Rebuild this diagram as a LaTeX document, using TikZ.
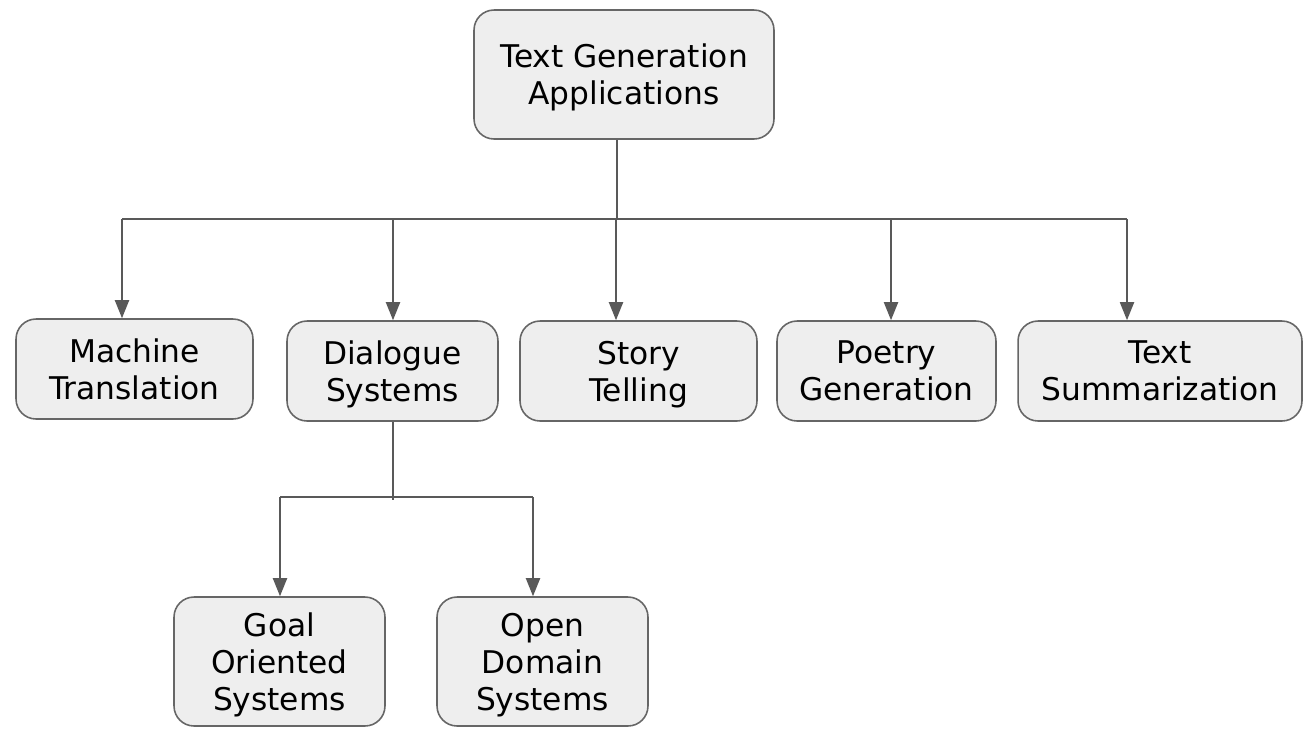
\documentclass[tikz,border=0pt]{standalone}
\usepackage{fontspec}
\setmainfont{DejaVu Sans}
\usetikzlibrary{arrows.meta}

\definecolor{boxfill}{HTML}{EEEEEE}
\definecolor{boxline}{HTML}{666666}
\definecolor{linkcol}{HTML}{595959}

\tikzset{
  topic/.style={draw=boxline, fill=boxfill, line width=0.9pt, rounded corners=0.4cm,
    align=center, inner sep=0pt, font=\fontsize{17.8}{21}\selectfont, text depth=0pt},
  link/.style={draw=linkcol, line width=1.1pt},
  arr/.style={link, -{Triangle[length=0.36cm, width=0.28cm]}}
}

\begin{document}
\begin{tikzpicture}[x=0.02cm, y=-0.02cm]
            \useasboundingbox (0,0) rectangle (1314,738);
            \node[topic, minimum width=6cm, minimum height=2.58cm] (TG) at (624,74.5) {Text Generation\\Applications};
            \node[topic, minimum width=4.74cm, minimum height=2cm] (MT) at (134.5,369) {Machine\\Translation};
            \node[topic, minimum width=4.22cm, minimum height=2cm] (DS) at (392.5,371) {Dialogue\\Systems};
            \node[topic, minimum width=4.74cm, minimum height=2cm] (ST) at (638.5,371) {Story\\Telling};
            \node[topic, minimum width=4.38cm, minimum height=2cm] (PG) at (886.5,371) {Poetry\\Generation};
            \node[topic, minimum width=5.68cm, minimum height=2cm] (TS) at (1160,371) {Text\\Summarization};
            \node[topic, minimum width=4.22cm, minimum height=2.58cm] (GO) at (279.5,661.5) {Goal\\Oriented\\Systems};
            \node[topic, minimum width=4.22cm, minimum height=2.58cm] (OD) at (542.5,661.5) {Open\\Domain\\Systems};
            % branch points
            \coordinate (J1) at (617,219);
            \coordinate (B1) at (122,219);
            \coordinate (B2) at (393,219);
            \coordinate (B3) at (616,219);
            \coordinate (B4) at (891,219);
            \coordinate (B5) at (1127,219);
            \coordinate (J2) at (393,500);
            \coordinate (C1) at (280,497);
            \coordinate (C2) at (533,497);
            \draw[link] (TG.south -| J1) -- (J1);
            \draw[link] (B1) -- (B5);
            \draw[arr] (B1) -- (B1 |- MT.north);
            \draw[arr] (B2) -- (B2 |- DS.north);
            \draw[arr] (B3) -- (B3 |- ST.north);
            \draw[arr] (B4) -- (B4 |- PG.north);
            \draw[arr] (B5) -- (B5 |- TS.north);
            \draw[link] (DS.south -| J2) -- (J2);
            \draw[link] (C1) -- (C2);
            \draw[arr] (C1) -- (C1 |- GO.north);
            \draw[arr] (C2) -- (C2 |- OD.north);
        \end{tikzpicture}
\end{document}
